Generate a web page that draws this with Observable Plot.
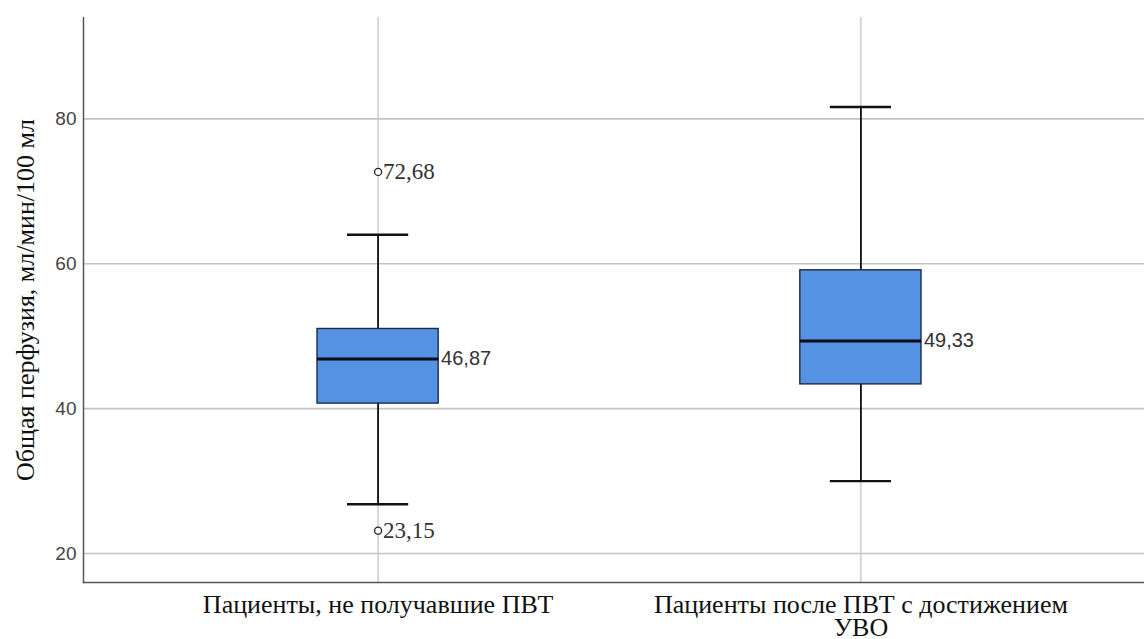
<!DOCTYPE html>
<html>
<head>
<meta charset="utf-8">
<script src="https://cdn.jsdelivr.net/npm/d3@7"></script>
<script src="https://cdn.jsdelivr.net/npm/@observablehq/plot@0.6"></script>
<style>
  html, body { margin: 0; padding: 0; background: #fff; }
</style>
</head>
<body>
<div id="chart"></div>
<script>
// Groups of patients
const groups = ["Пациенты, не получавшие ПВТ", "Пациенты после ПВТ с достижением УВО"];
const groupLabels = ["Пациенты, не получавшие ПВТ", "Пациенты после ПВТ с достижением\nУВО"];

// Box-plot statistics, мл/мин/100 мл
const whiskerLow = [26.8, 30.0];
const q1 = [40.7, 43.35];
const median = [46.87, 49.33];
const q3 = [51.0, 59.1];
const whiskerHigh = [64.0, 81.65];

// Outliers
const outlierGroup = [groups[0], groups[0]];
const outlierValue = [72.68, 23.15];

const yTicks = [20, 40, 60, 80];
const yLabel = "Общая перфузия, мл/мин/100 мл";

const boxes = groups.map((g, i) => ({
  group: g, lo: whiskerLow[i], q1: q1[i], med: median[i], q3: q3[i], hi: whiskerHigh[i]
}));
const outliers = outlierValue.map((v, i) => ({group: outlierGroup[i], value: v}));

const fmt = v => d3.format(".2f")(v).replace(".", ",");
const serif = "Liberation Serif";
const sans = "Liberation Sans";

const chart = Plot.plot({
  width: 1144,
  height: 639,
  marginTop: 17,
  marginBottom: 57,
  marginLeft: 83,
  marginRight: 0,
  style: {fontFamily: sans, fontSize: "19px", color: "#333", background: "#fff"},
  x: {type: "band", domain: groups, range: [317, 921], paddingInner: 0.749, paddingOuter: 0, round: false, axis: null},
  y: {domain: [16, 94], axis: null},
  marks: [
    Plot.gridY(yTicks, {stroke: "#c4c4c4", strokeOpacity: 1, strokeWidth: 1.6}),
    Plot.gridX(groups, {stroke: "#c4c4c4", strokeOpacity: 1, strokeWidth: 1.3}),
    Plot.frame({anchor: "left", stroke: "#555", strokeWidth: 1.5}),
    Plot.frame({anchor: "bottom", stroke: "#555", strokeWidth: 1.5}),
    // y tick labels
    Plot.text(yTicks, {
      y: d => d, frameAnchor: "left", textAnchor: "end", dx: -7, text: d => String(d),
      fontFamily: sans, fontSize: 19, fill: "#444"
    }),
    // x tick labels
    Plot.text(groups, {
      x: d => d, frameAnchor: "bottom", textAnchor: "middle", lineAnchor: "top", dy: 14,
      text: (d, i) => groupLabels[i], lineHeight: 0.88,
      fontFamily: serif, fontSize: 26, fill: "#111"
    }),
    // y axis title
    Plot.text([yLabel], {
      frameAnchor: "left", rotate: -90, dx: -58, textAnchor: "middle", lineAnchor: "middle",
      text: d => d, fontFamily: serif, fontSize: 26, fill: "#111"
    }),
    // whiskers
    Plot.ruleX(boxes, {x: "group", y1: "q3", y2: "hi", stroke: "#111", strokeWidth: 1.8}),
    Plot.ruleX(boxes, {x: "group", y1: "q1", y2: "lo", stroke: "#111", strokeWidth: 1.8}),
    Plot.tickY(boxes, {x: "group", y: "hi", stroke: "#111", strokeWidth: 2.4, insetLeft: 30, insetRight: 30}),
    Plot.tickY(boxes, {x: "group", y: "lo", stroke: "#111", strokeWidth: 2.4, insetLeft: 30, insetRight: 30}),
    // boxes
    Plot.barY(boxes, {x: "group", y1: "q1", y2: "q3", fill: "#5592e2", stroke: "#1d2b48", strokeWidth: 1.4}),
    Plot.tickY(boxes, {x: "group", y: "med", stroke: "#050a1a", strokeWidth: 3}),
    Plot.text(boxes, {
      x: "group", y: "med", text: d => fmt(d.med), textAnchor: "start", dx: 63,
      fontFamily: sans, fontSize: 20, fill: "#333"
    }),
    // outliers
    Plot.dot(outliers, {x: "group", y: "value", r: 3.5, stroke: "#222", strokeWidth: 1.3, fill: "#fff"}),
    Plot.text(outliers, {
      x: "group", y: "value", text: d => fmt(d.value), textAnchor: "start", dx: 5,
      fontFamily: serif, fontSize: 23, fill: "#333"
    })
  ]
});

document.getElementById("chart").appendChild(chart);
</script>
</body>
</html>
